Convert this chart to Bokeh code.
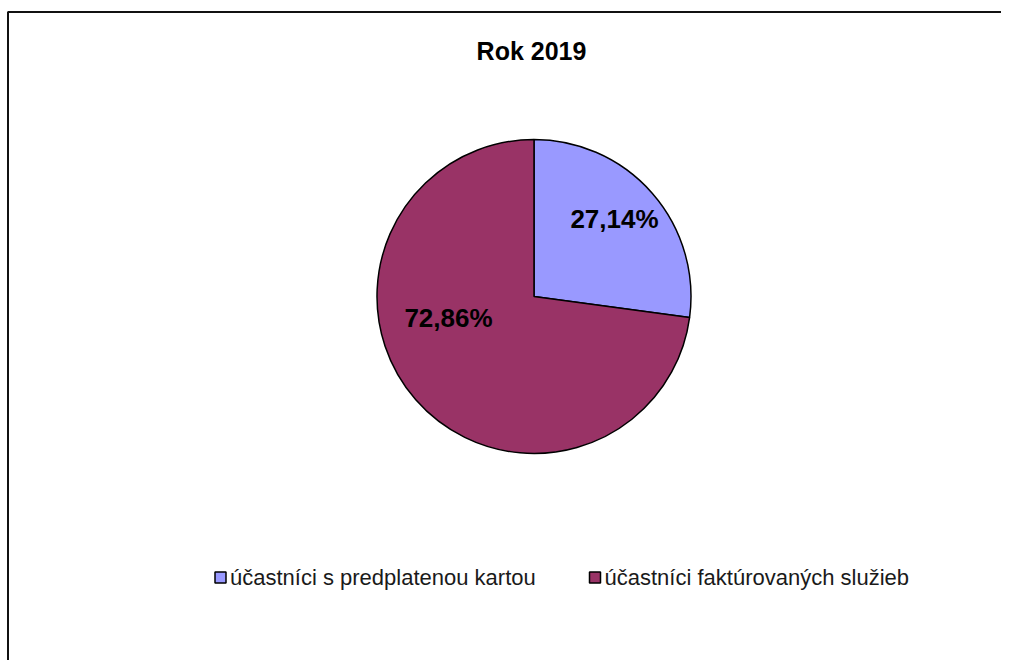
import math
from bokeh.plotting import figure
from bokeh.models import Range1d, ColumnDataSource
from bokeh.core.properties import value
from bokeh.embed import file_html
from bokeh.resources import INLINE

# ---- data ----
title_text = "Rok 2019"
categories = ["účastníci s predplatenou kartou", "účastníci faktúrovaných služieb"]
shares = [27.14, 72.86]
colors = ["#9999FF", "#993366"]
share_labels = ["27,14%", "72,86%"]

# ---- layout (pixels) ----
W, H = 1001, 660
cx, cy, R = 533.5, 364.0, 157.0
label_offsets = [(80.5, 78.0), (-85.5, -21.0)]
legend_sq_x = [220.0, 594.5]
legend_y = 83.0
FONT = "Liberation Sans"

p = figure(width=W, height=H, output_backend="svg", toolbar_location=None,
           x_range=Range1d(0, W), y_range=Range1d(0, H), min_border=0,
           outline_line_color=None)
p.axis.visible = False
p.grid.visible = False
p.background_fill_color = "white"
p.border_fill_color = "white"

# pie wedges
total = sum(shares)
starts, ends, cum = [], [], 0.0
for s in shares:
    a0 = math.pi / 2 - 2 * math.pi * cum / total
    cum += s
    a1 = math.pi / 2 - 2 * math.pi * cum / total
    starts.append(a0)
    ends.append(a1)

src = ColumnDataSource(dict(x=[cx] * len(shares), y=[cy] * len(shares),
                            start=starts, end=ends, color=colors))
p.wedge(x="x", y="y", radius=R, start_angle="start", end_angle="end",
        direction="clock", fill_color="color", line_color="black",
        line_width=1.5, source=src)

# slice labels
lx = [cx + dx for dx, dy in label_offsets]
ly = [cy + dy for dx, dy in label_offsets]
p.text(x=lx, y=ly, text=share_labels, text_align="center",
       text_baseline="middle", text_font=value(FONT), text_font_style="bold",
       text_font_size="26px", text_color="black")

# title
p.text(x=[531], y=[H - 50], text=[title_text], text_align="center",
       text_baseline="middle", text_font=value(FONT), text_font_style="bold",
       text_font_size="25px", text_color="black")

# legend
p.rect(x=legend_sq_x, y=[legend_y] * 2, width=11, height=11,
       fill_color=colors, line_color="black", line_width=1.5)
p.text(x=[x + 9.5 for x in legend_sq_x], y=[legend_y] * 2, text=categories,
       text_align="left", text_baseline="middle", text_font=value(FONT),
       text_font_size="22px", text_color="#1a1a1a")

# chart border (left and top edges visible)
p.line(x=[7.5, 7.5, W + 20], y=[-20, H - 11.5, H - 11.5],
       line_color="#111111", line_width=2)

open("out.html", "w").write(file_html(p, INLINE))
